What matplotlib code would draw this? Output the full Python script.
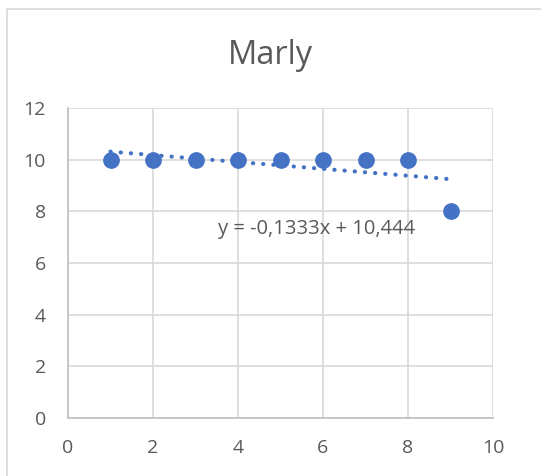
import numpy as np
import matplotlib
matplotlib.use("Agg")
import matplotlib.pyplot as plt
from matplotlib.patches import Rectangle

# data
x_vals = [1, 2, 3, 4, 5, 6, 7, 8, 9]
y_vals = [10, 10, 10, 10, 10, 10, 10, 10, 8]
x_ticks = [0, 2, 4, 6, 8, 10]
y_ticks = [0, 2, 4, 6, 8, 10, 12]
title = "Marly"
equation = "y = -0,1333x + 10,444"

BLUE = "#4472C4"
GRID = "#D9D9D9"
TEXT = "#595959"

plt.rcParams['font.family'] = ['Open Sans', 'DejaVu Sans']

fig = plt.figure(figsize=(5.41, 4.76), dpi=100, facecolor="white")

# chart frame (cropped on right and bottom)
fig.patches.append(Rectangle((7 / 541, -0.1), 1.2, 1 - 9 / 476 + 0.1,
                             transform=fig.transFigure, fill=False,
                             edgecolor=GRID, linewidth=1.2))

ax = fig.add_axes([68 / 541, 1 - 418 / 476, 425 / 541, 310 / 476])

ax.scatter(x_vals, y_vals, s=145, color=BLUE, zorder=3, linewidths=0)

# linear trendline
slope, intercept = np.polyfit(x_vals, y_vals, 1)
tx = np.array([x_vals[0], x_vals[-1]])
ax.plot(tx, slope * tx + intercept, color=BLUE, linestyle=(0, (0.05, 2.4)),
        linewidth=3.0, dash_capstyle='round', zorder=2)

ax.text(3.52, 7.33, equation, fontsize=14.5, color=TEXT, va='center', ha='left')

ax.set_xlim(0, 10)
ax.set_ylim(0, 12)
ax.set_xticks(x_ticks)
ax.set_yticks(y_ticks)
ax.grid(True, color=GRID, linewidth=1.2, zorder=0)
ax.set_axisbelow(True)
ax.tick_params(length=0, labelsize=14, labelcolor=TEXT)
ax.tick_params(axis='x', pad=15)
ax.tick_params(axis='y', pad=16)
for side in ['top', 'right']:
    ax.spines[side].set_visible(False)
for side in ['left', 'bottom']:
    ax.spines[side].set_color("#BFBFBF")
    ax.spines[side].set_linewidth(1.2)

fig.text(0.5, 1 - 55 / 476, title, ha='center', va='center', fontsize=23.5, color=TEXT)

plt.savefig("out.png", dpi=100, facecolor="white")
